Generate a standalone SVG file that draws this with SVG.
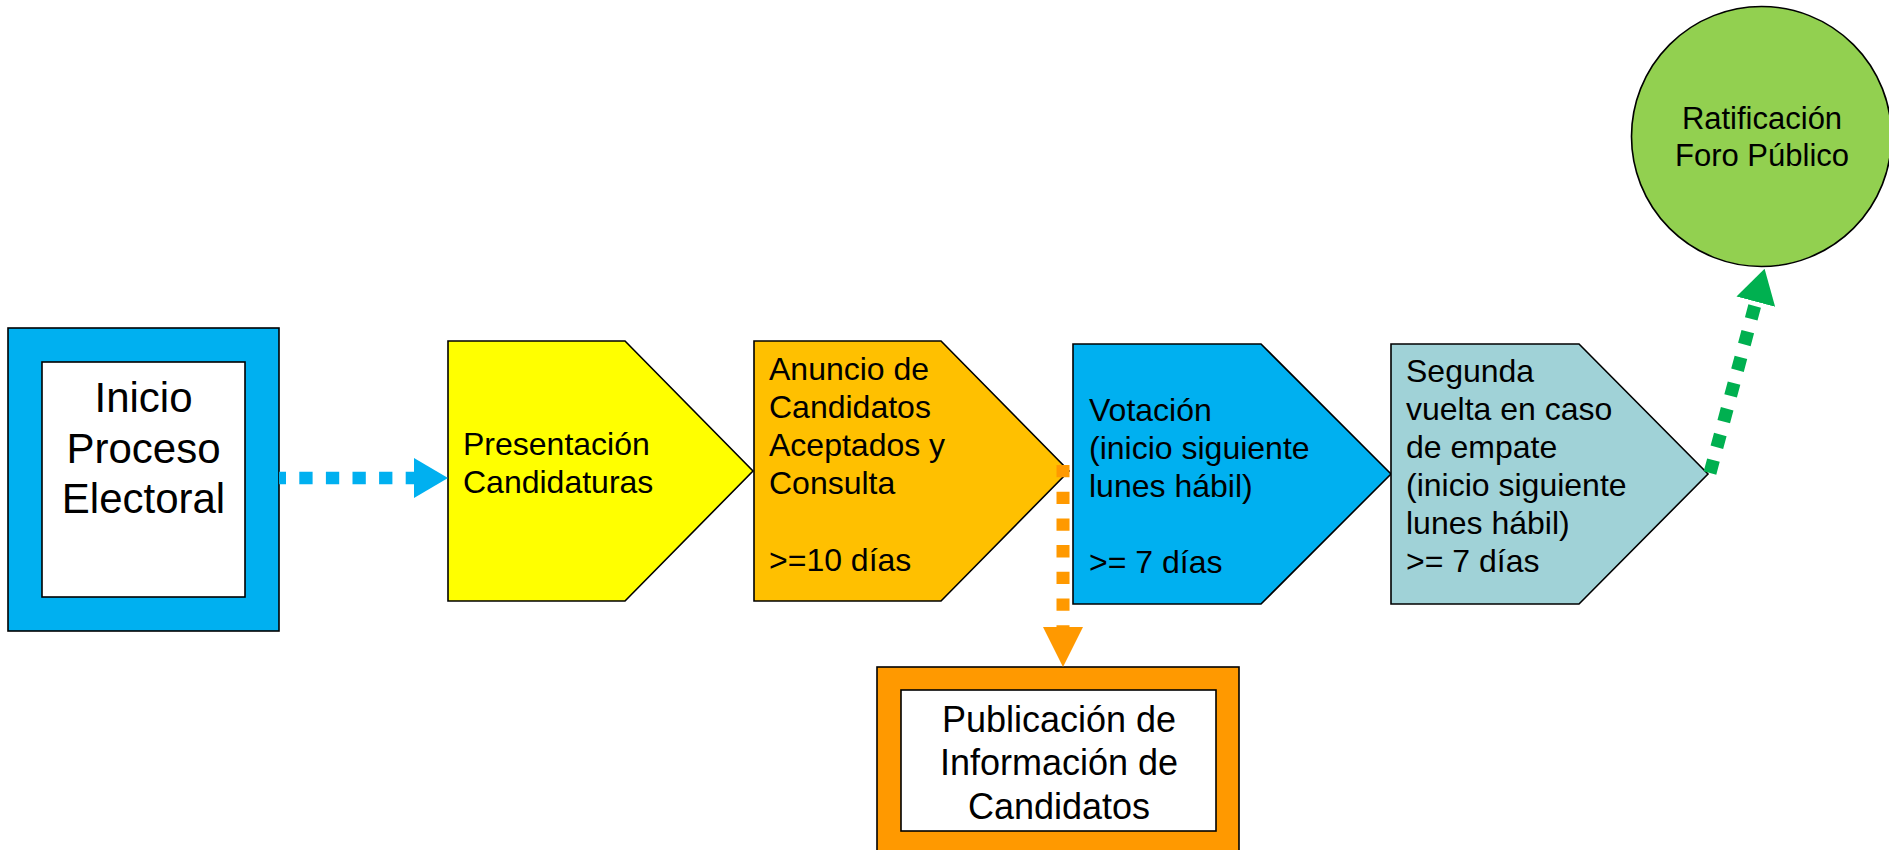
<svg xmlns="http://www.w3.org/2000/svg" width="1889" height="850" viewBox="0 0 1889 850">
<style>
.t{font-family:"Liberation Sans",Arial,sans-serif;fill:#000}
.s{stroke:#000;stroke-width:1.6}
.p{font-size:32px}
.c{text-anchor:middle}
</style>
<defs>
<marker id="ahBlue" markerUnits="userSpaceOnUse" markerWidth="34" markerHeight="40" refX="0" refY="20" orient="auto"><path d="M0,0 L34,20 L0,40 Z" fill="#00B0F0"/></marker>
<marker id="ahOrange" markerUnits="userSpaceOnUse" markerWidth="40" markerHeight="40" refX="0" refY="20" orient="auto"><path d="M0,0 L40,20 L0,40 Z" fill="#FF9900"/></marker>
<marker id="ahGreen" markerUnits="userSpaceOnUse" markerWidth="34" markerHeight="40" refX="0" refY="20" orient="auto"><path d="M0,0 L34,20 L0,40 Z" fill="#00B050"/></marker>
</defs>
<rect width="1889" height="850" fill="#fff"/>

<g id="inicio">
<rect class="s" x="8" y="328" width="271" height="303" fill="#00B0F0"/>
<rect class="s" x="42" y="362" width="203" height="235" fill="#fff"/>
<text class="t c" font-size="42"><tspan x="143.5" y="412">Inicio</tspan><tspan x="143.5" y="463">Proceso</tspan><tspan x="143.5" y="513">Electoral</tspan></text>
</g>

<g id="presentacion">
<polygon class="s" points="448,341 625,341 753,471 625,601 448,601" fill="#FFFF00"/>
<text class="t p"><tspan x="463" y="455">Presentación</tspan><tspan x="463" y="493">Candidaturas</tspan></text>
</g>

<g id="anuncio">
<polygon class="s" points="754,341 941,341 1069,471 941,601 754,601" fill="#FFC000"/>
<text class="t p"><tspan x="769" y="380">Anuncio de</tspan><tspan x="769" y="418">Candidatos</tspan><tspan x="769" y="456">Aceptados y</tspan><tspan x="769" y="494">Consulta</tspan><tspan x="769" y="571">&gt;=10 días</tspan></text>
</g>

<g id="votacion">
<polygon class="s" points="1073,344 1261,344 1391,474 1261,604 1073,604" fill="#00B0F0"/>
<text class="t p"><tspan x="1089" y="421">Votación</tspan><tspan x="1089" y="459">(inicio siguiente</tspan><tspan x="1089" y="497">lunes hábil)</tspan><tspan x="1089" y="573">&gt;= 7 días</tspan></text>
</g>

<g id="segunda">
<polygon class="s" points="1391,344 1579,344 1708,474 1579,604 1391,604" fill="#A0D2D7"/>
<text class="t p"><tspan x="1406" y="382">Segunda</tspan><tspan x="1406" y="420">vuelta en caso</tspan><tspan x="1406" y="458">de empate</tspan><tspan x="1406" y="496">(inicio siguiente</tspan><tspan x="1406" y="534">lunes hábil)</tspan><tspan x="1406" y="572">&gt;= 7 días</tspan></text>
</g>

<g id="ratificacion">
<circle class="s" cx="1761.5" cy="136.5" r="130" fill="#92D050"/>
<text class="t c" font-size="31"><tspan x="1762" y="129">Ratificación</tspan><tspan x="1762" y="166">Foro Público</tspan></text>
</g>

<g id="publicacion">
<rect class="s" x="877" y="667" width="362" height="200" fill="#FF9900"/>
<rect class="s" x="901" y="690" width="315" height="141" fill="#fff"/>
<text class="t c" font-size="36"><tspan x="1059" y="732">Publicación de</tspan><tspan x="1059" y="775">Información de</tspan><tspan x="1059" y="819">Candidatos</tspan></text>
</g>

<g id="connectors" fill="none">
<line x1="279" y1="478" x2="414" y2="478" stroke="#00B0F0" stroke-width="12.5" stroke-dasharray="13.3 13.3" stroke-dashoffset="6.3" marker-end="url(#ahBlue)"/>
<line x1="1063" y1="465" x2="1063" y2="627" stroke="#FF9900" stroke-width="13" stroke-dasharray="12.3 14.4" marker-end="url(#ahOrange)"/>
<line x1="1710" y1="473" x2="1755.8" y2="301.7" stroke="#00B050" stroke-width="13" stroke-dasharray="13.3 13.3" marker-end="url(#ahGreen)"/>
</g>
</svg>
